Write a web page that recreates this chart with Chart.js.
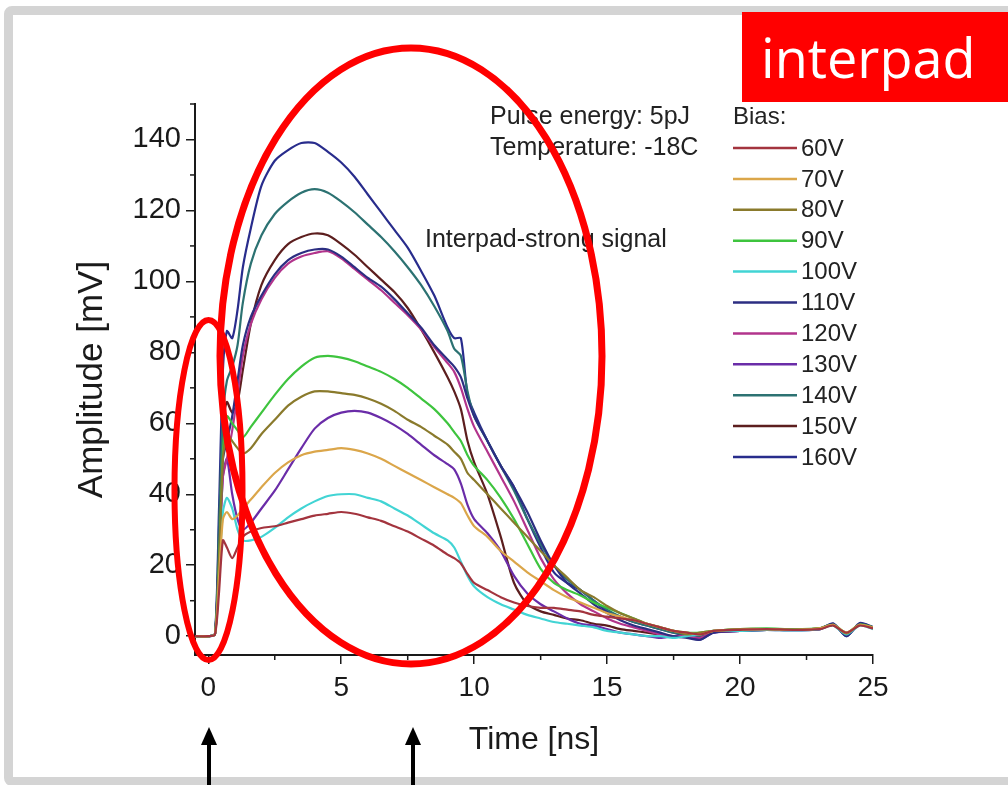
<!DOCTYPE html>
<html><head><meta charset="utf-8">
<script src="https://cdn.jsdelivr.net/npm/chart.js@4.4.1/dist/chart.umd.min.js"></script>
<style>
html,body{margin:0;padding:0;background:#fff;width:1008px;height:785px;overflow:hidden;position:relative;font-family:"Liberation Sans",Arial,sans-serif}
#frame{position:absolute;left:4px;top:6px;width:1040px;height:780px;border:9px solid #d4d4d4;border-radius:8px;box-sizing:border-box}
#c{position:absolute;left:0;top:0}
#ov{position:absolute;left:0;top:0}
#tag{position:absolute;left:742px;top:12px;width:266px;height:90px;background:#ff0000;color:#fff;font-family:"Open Sans",sans-serif;font-size:54px;line-height:90px;text-indent:19px}
</style></head>
<body>
<div id="frame"></div>
<canvas id="c" width="1008" height="785"></canvas>
<svg id="ov" width="1008" height="785">
  <ellipse cx="411" cy="356" rx="191" ry="308" fill="none" stroke="#ff0000" stroke-width="7"/>
  <ellipse cx="208.5" cy="490" rx="34" ry="170" fill="none" stroke="#ff0000" stroke-width="6"/>
  <line x1="209" y1="790" x2="209" y2="740" stroke="#000" stroke-width="4"/>
  <polygon points="209,727 201,745 217,745" fill="#000"/>
  <line x1="413" y1="790" x2="413" y2="740" stroke="#000" stroke-width="4"/>
  <polygon points="413,727 405,745 421,745" fill="#000"/>
</svg>
<div id="tag">interpad</div>
<script>
// ---- data ----
const T = [-0.5, 0, 0.25, 0.4, 0.55, 0.7, 0.9, 1.1, 1.3, 1.6,
  2, 2.5, 3, 3.5, 4, 4.5, 5, 5.5, 6, 6.5,
  7, 7.5, 8, 8.5, 9, 9.25, 9.5, 9.75, 10, 10.5,
  11, 11.5, 12, 12.5, 13, 13.5, 14, 14.5, 15, 15.5,
  16, 16.5, 17, 17.5, 18, 18.5, 19, 20, 21, 22,
  23, 23.5, 24, 24.5, 25];
const LABELS = ['60V','70V','80V','90V','100V','110V','120V','130V','140V','150V','160V'];
const V60 = [0, 0, 0.5, 12, 27, 25, 22, 25, 28, 29.5,
  30.5, 31, 32, 33, 34, 34.5, 35, 34.5, 33.5, 32.5,
  31, 29.5, 27.5, 25.5, 23, 22, 20.5, 17.5, 15, 13,
  11, 9.5, 8.5, 8, 8, 7.5, 7, 6, 5.5, 5,
  4.5, 3.5, 2.5, 1.5, 1, 0.5, 1.5, 1.8, 2, 1.8,
  2, 3, 1, 3, 2.2];
const V70 = [0, 0, 0.5, 16, 33, 35, 33, 34, 36, 38.5,
  42, 46, 49, 51, 52, 52.5, 53, 52.5, 51.5, 50,
  48, 46, 44, 42, 40, 39, 37.5, 34, 31, 28,
  24, 21, 18, 15.5, 13, 11, 9.5, 8, 6.5, 5.5,
  4.5, 3.5, 2.5, 1.5, 1, 0.5, 1.5, 1.8, 2, 1.8,
  2.2, 3.2, 1, 3.2, 2.4];
const V80 = [0, 0, 0.5, 20, 50, 57, 55, 53, 51.5, 53,
  57, 61, 65, 67.5, 69, 69, 68.5, 68, 67, 65.5,
  63.5, 61, 59, 56.5, 54, 52, 50, 46, 44, 40,
  36, 32, 28, 24, 20, 16.5, 13, 11, 8.5, 6.5,
  5, 3.5, 2.5, 1.5, 0.5, 1, 1.5, 2, 2, 1.8,
  2.2, 3.2, 0.8, 3.2, 2.4];
const V90 = [0, 0, 0.5, 22, 52, 62, 60, 58, 56, 59,
  63, 68, 72.5, 76, 78.5, 79, 78.5, 77.5, 76, 74.5,
  72.5, 70, 67, 64, 60, 57.5, 55, 51, 48, 44,
  39, 33, 26, 19, 15, 13, 11.5, 9.5, 8, 6.5,
  5, 3.5, 2.5, 1.5, 1, 1, 1.5, 2, 2.2, 2,
  2.2, 3.2, 1, 3.3, 2.5];
const V100 = [0, 0, 0.5, 18, 35, 39, 36, 30, 27, 27,
  28, 30.5, 33.5, 36, 38, 39.5, 40, 40, 39, 38,
  36, 34, 31.5, 29, 27, 25, 21, 17, 14, 11,
  9, 7.5, 6, 5, 4, 3.5, 3, 2.5, 1.5, 1,
  0.5, 0, 0, -0.5, 0, 0.5, 1.5, 1.5, 1.8, 1.6,
  2, 3, 0.5, 3, 2];
const V110 = [0, 0, 0.5, 25, 50, 55, 62, 72, 82, 90,
  96, 102, 106, 108, 109, 109, 107, 104, 101, 98.5,
  95, 91, 87, 82, 78, 76, 73, 67, 62, 55,
  48, 42, 35, 27, 20, 15, 12, 9, 6.5, 4.5,
  3, 2, 1, 0, -0.5, -1, 1, 1.5, 1.8, 1.8,
  2, 3.5, 0, 3.5, 2.5];
const V120 = [0, 0, 0.5, 22, 45, 50, 58, 68, 79, 88,
  95, 101, 105, 107, 108, 108.5, 106.5, 103.5, 100.5, 97.5,
  94, 90.5, 86.5, 81.5, 77, 74.5, 70, 64, 59, 52,
  45, 38, 30, 22, 16, 12, 9, 7, 5, 3.5,
  2.5, 1.5, 0.5, 0, 0, -0.5, 1.2, 1.5, 2, 1.8,
  2, 3.2, 0.5, 3.4, 2.3];
const V130 = [0, 0, 0.5, 20, 45, 50, 40, 33, 30, 32,
  36, 41, 47, 53, 58.5, 61.5, 63, 63.5, 63, 61.5,
  59.5, 57, 54, 51, 48.5, 47, 43, 37, 33, 29,
  24, 17, 12, 9, 7, 5, 3.5, 3, 2, 1,
  0.5, 0, -0.5, 0, 0, -0.5, 1, 1.5, 1.8, 1.6,
  2, 3.3, 0.3, 3.3, 2.2];
const V140 = [0, 0, 0.5, 30, 62, 72, 76, 82, 94, 105,
  113, 119, 122.5, 125, 126, 125, 122.5, 119.5, 116, 112.5,
  108.5, 104, 99, 93, 86, 81, 79, 69, 62, 55,
  48, 41, 33, 26, 20, 16, 13, 10, 7.5, 5.5,
  4, 3, 2, 1, 0.5, 0, 1.2, 1.6, 2, 1.8,
  2.2, 3.4, 0.5, 3.4, 2.5];
const V150 = [0, 0, 0.5, 25, 60, 66, 63, 66, 75, 88,
  99, 106, 110.5, 112.5, 113.5, 113, 110.5, 107.5, 104, 100.5,
  97, 92.5, 86.5, 80, 73, 69, 64, 55, 49, 40,
  28, 15, 9, 7, 6, 5, 4.5, 3.5, 3, 2,
  1.5, 1, 0.5, 0, 0.5, 0, 1.2, 1.6, 2, 1.8,
  2.2, 3.2, 0.8, 3.2, 2.3];
const V160 = [0, 0, 0.5, 35, 75, 86, 84, 92, 104, 115,
  127, 134, 137, 139, 139, 136.5, 133.5, 129.5, 124.5, 119.5,
  114.5, 109.5, 103, 96, 87, 84, 84, 68, 63, 55,
  48, 42, 33, 25, 18, 15, 13, 10, 7, 5.5,
  4, 3, 2, 1, 0, -1, 1, 1.5, 1.8, 1.8,
  2, 3.6, 0, 3.7, 2.6];
const X_TICKS = [0, 5, 10, 15, 20, 25];
const X_MINOR = [2.5, 7.5, 12.5, 17.5, 22.5];
const Y_TICKS = [0, 20, 40, 60, 80, 100, 120, 140];
const Y_MINOR = [10, 30, 50, 70, 90, 110, 130, 150];
const NOTES = ['Pulse energy: 5pJ', 'Temperature: -18C', 'Interpad-strong signal'];
const LEGEND_TITLE = 'Bias:';

// ---- styles ----
const SERIES = [V60, V70, V80, V90, V100, V110, V120, V130, V140, V150, V160];
const COLORS = ['#a3343e', '#dba64a', '#8a7a2c', '#3ec43e', '#42d4d4', '#2c2e82', '#b2348c', '#6a2ca8', '#2c7272', '#5c1e1e', '#282c8c'];
const FONT = 'Liberation Sans';
const INK = '#1a1a1a';

const extras = {
  id: 'extras',
  afterDraw(chart) {
    const {ctx, scales: {x, y}} = chart;
    ctx.save();
    ctx.strokeStyle = INK; ctx.lineWidth = 1.5;
    X_MINOR.forEach(v => { const p = x.getPixelForValue(v); ctx.beginPath(); ctx.moveTo(p, x.top); ctx.lineTo(p, x.top + 5); ctx.stroke(); });
    Y_MINOR.forEach(v => { const p = y.getPixelForValue(v); ctx.beginPath(); ctx.moveTo(y.right, p); ctx.lineTo(y.right - 5, p); ctx.stroke(); });
    ctx.fillStyle = '#222';
    ctx.textBaseline = 'middle';
    ctx.textAlign = 'left';
    ctx.font = '25px "' + FONT + '"';
    ctx.fillText(NOTES[0], 490, 117);
    ctx.fillText(NOTES[1], 490, 148);
    ctx.fillText(NOTES[2], 425, 240);
    ctx.font = '24px "' + FONT + '"';
    ctx.fillText(LEGEND_TITLE, 733, 117);
    chart.data.datasets.forEach((d, i) => {
      const yy = 148 + i * 30.9;
      ctx.strokeStyle = d.borderColor; ctx.lineWidth = 2.5;
      ctx.beginPath(); ctx.moveTo(733, yy); ctx.lineTo(797, yy); ctx.stroke();
      ctx.fillStyle = '#222';
      ctx.fillText(d.label, 801, yy + 1);
    });
    ctx.restore();
  }
};

new Chart(document.getElementById('c'), {
  type: 'line',
  data: {
    datasets: SERIES.map((s, i) => ({
      label: LABELS[i],
      data: T.map((t, j) => ({x: t, y: s[j]})),
      borderColor: COLORS[i],
      borderWidth: 2.2,
      pointRadius: 0,
      tension: 0.25,
      fill: false
    }))
  },
  options: {
    responsive: false, animation: false, devicePixelRatio: 1,
    layout: {padding: {left: 0, top: 104, right: 135, bottom: 0}},
    plugins: {legend: {display: false}, tooltip: {enabled: false}},
    scales: {
      x: {
        type: 'linear', min: -0.5, max: 25,
        afterBuildTicks: s => { s.ticks = X_TICKS.map(v => ({value: v})); },
        afterFit: s => { s.height = 130; },
        grid: {drawOnChartArea: false, drawTicks: true, tickLength: 9, color: INK, lineWidth: 1.5},
        border: {display: true, color: INK, width: 2},
        ticks: {color: INK, font: {family: FONT, size: 28}, padding: 7, maxRotation: 0, autoSkip: false},
        title: {display: true, text: 'Time [ns]', color: INK, font: {family: FONT, size: 32}, padding: {top: 0, bottom: 26}}
      },
      y: {
        type: 'linear', min: -5.3, max: 150,
        afterBuildTicks: s => { s.ticks = Y_TICKS.map(v => ({value: v})); },
        afterFit: s => { s.width = 195; },
        grid: {drawOnChartArea: false, drawTicks: true, tickLength: 9, color: INK, lineWidth: 1.5},
        border: {display: true, color: INK, width: 2},
        ticks: {color: INK, font: {family: FONT, size: 29}, padding: 5, autoSkip: false},
        title: {display: true, text: 'Amplitude [mV]', color: INK, font: {family: FONT, size: 35}, padding: {top: 71, bottom: 0}}
      }
    }
  },
  plugins: [extras]
});
</script>
</body></html>
